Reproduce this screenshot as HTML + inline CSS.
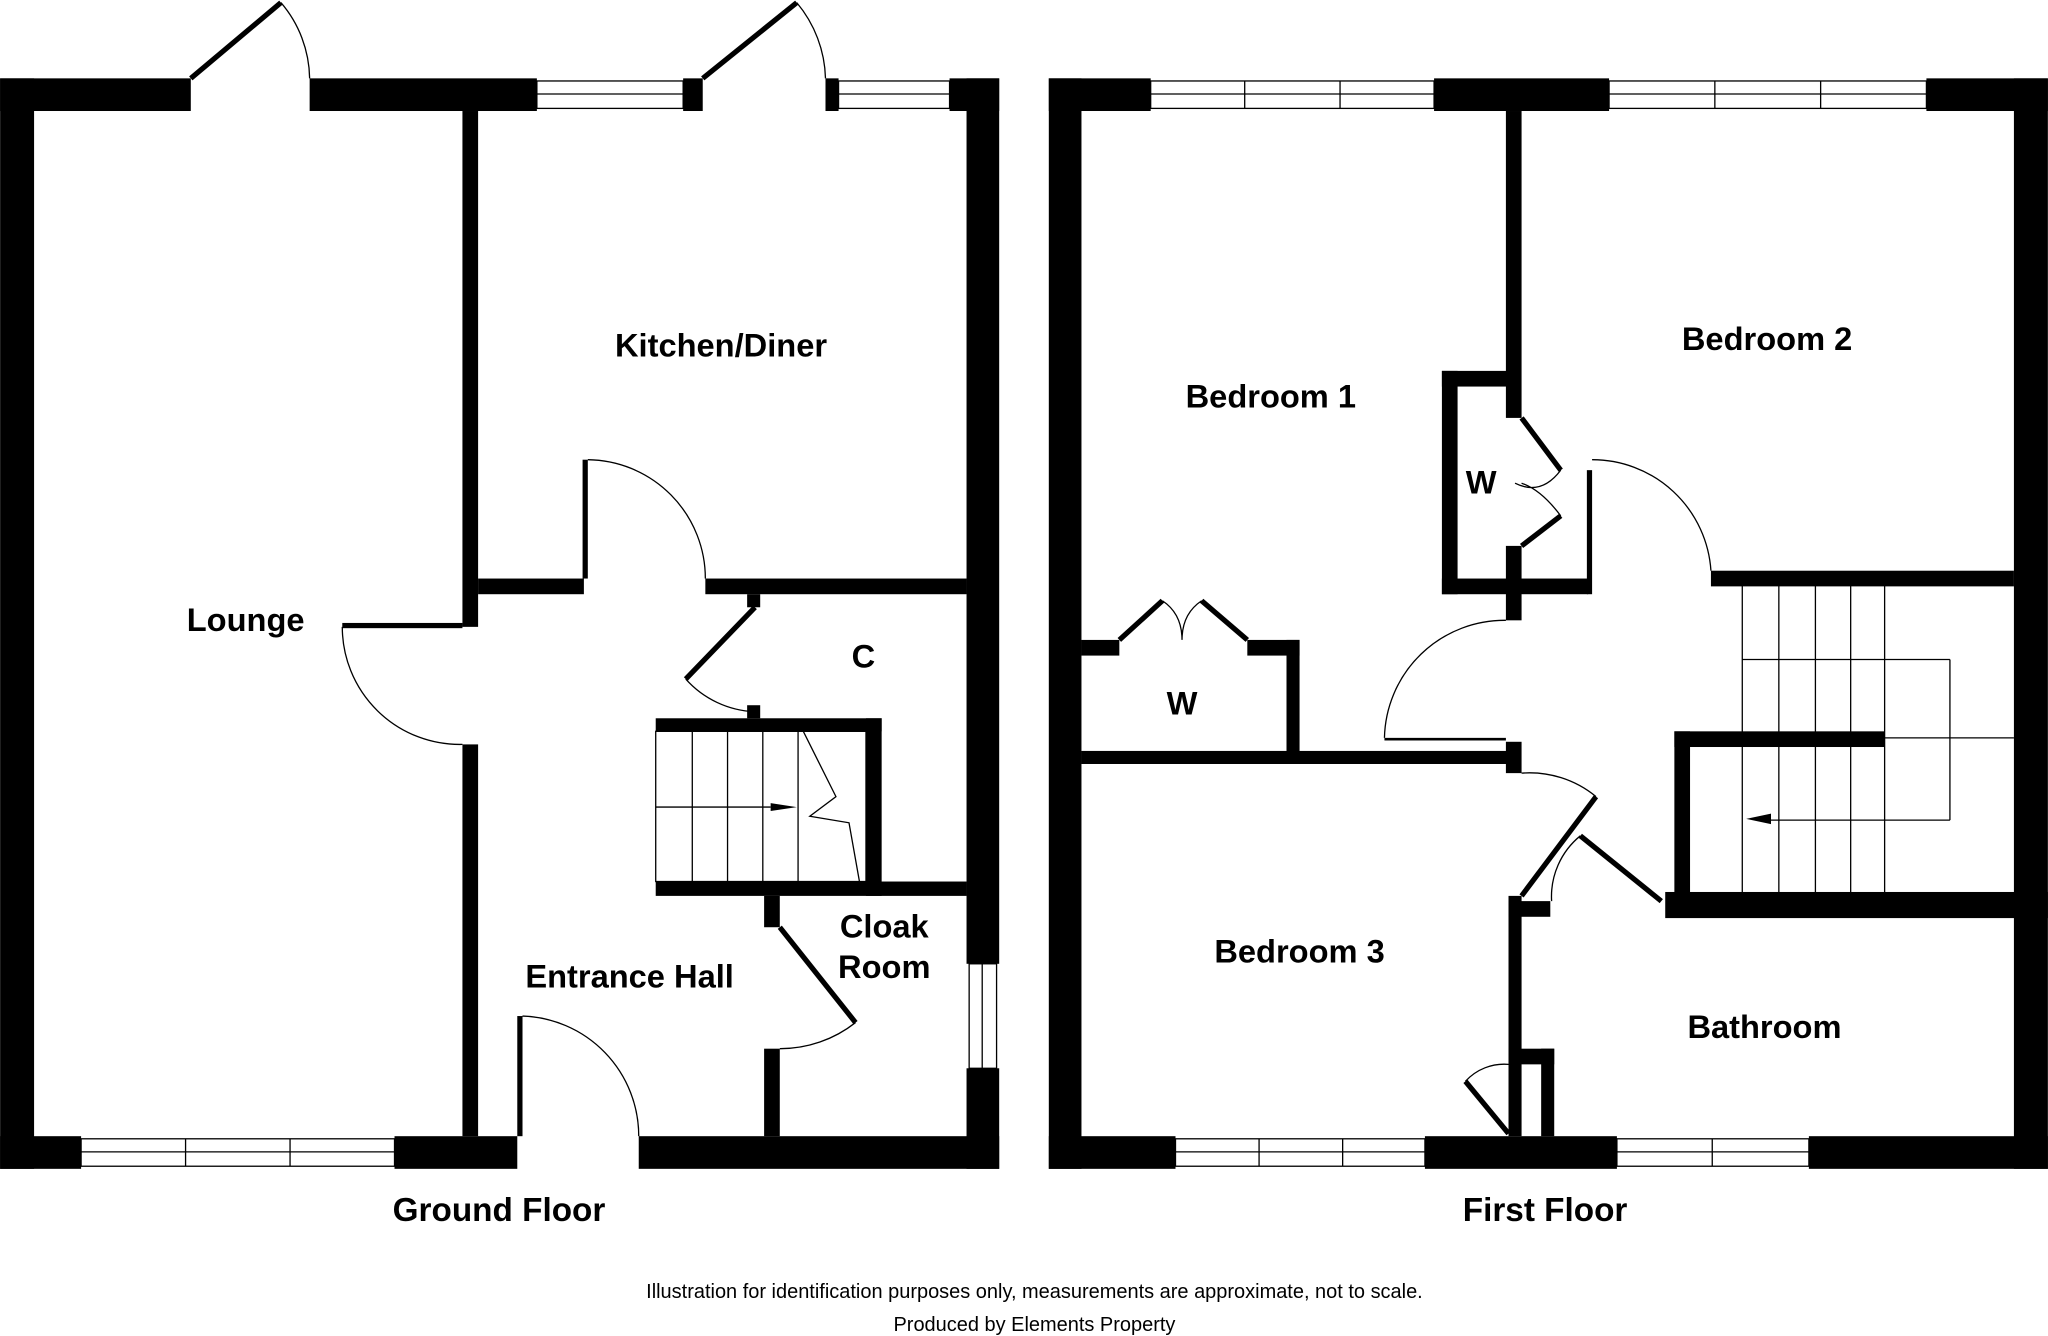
<!DOCTYPE html>
<html><head><style>html,body{margin:0;padding:0;background:#fff}svg{display:block}</style></head>
<body>
<svg width="2048" height="1336" viewBox="0 0 1568 1023" xmlns="http://www.w3.org/2000/svg" font-family="Liberation Sans, Arial, sans-serif">
<rect width="1568" height="1023" fill="#fff"/>
<g fill="#000">
<rect x="0" y="60" width="26" height="835"/>
<rect x="740" y="60" width="25" height="678"/>
<rect x="740" y="818" width="25" height="77"/>
<rect x="0" y="60" width="146" height="25"/>
<rect x="237" y="60" width="174" height="25"/>
<rect x="523" y="60" width="15" height="25"/>
<rect x="632" y="60" width="10" height="25"/>
<rect x="727" y="60" width="38" height="25"/>
<rect x="0" y="870" width="62" height="25"/>
<rect x="302" y="870" width="94" height="25"/>
<rect x="489" y="870" width="276" height="25"/>
<rect x="354" y="85" width="12" height="395"/>
<rect x="354" y="570" width="12" height="300"/>
<rect x="366" y="443" width="81" height="12"/>
<rect x="540" y="443" width="200" height="12"/>
<rect x="572" y="455" width="10" height="10"/>
<rect x="572" y="540" width="10" height="10"/>
<rect x="502" y="550" width="173" height="10"/>
<rect x="663" y="550" width="12" height="136"/>
<rect x="502" y="675" width="238" height="11"/>
<rect x="585" y="686" width="12" height="24"/>
<rect x="585" y="803" width="12" height="67"/>
<rect x="262" y="477" width="92" height="4"/>
<rect x="446" y="352" width="4" height="91"/>
<rect x="396" y="778" width="4" height="92"/>
<rect x="803" y="60" width="25" height="835"/>
<rect x="1542" y="60" width="26" height="835"/>
<rect x="803" y="60" width="78" height="25"/>
<rect x="1098" y="60" width="134" height="25"/>
<rect x="1475" y="60" width="93" height="25"/>
<rect x="803" y="870" width="97" height="25"/>
<rect x="1091" y="870" width="147" height="25"/>
<rect x="1385" y="870" width="183" height="25"/>
<rect x="1153" y="85" width="12" height="235"/>
<rect x="1104" y="284" width="12" height="171"/>
<rect x="1104" y="284" width="56" height="12"/>
<rect x="1104" y="443" width="112" height="12"/>
<rect x="1153" y="418" width="12" height="57"/>
<rect x="1215" y="360" width="4" height="95"/>
<rect x="1310" y="437" width="232" height="12"/>
<rect x="1282" y="560" width="12" height="135"/>
<rect x="1282" y="560" width="161" height="12"/>
<rect x="1275" y="683" width="293" height="20"/>
<rect x="828" y="575" width="332" height="10"/>
<rect x="828" y="490" width="29" height="12"/>
<rect x="955" y="490" width="40" height="12"/>
<rect x="985" y="490" width="10" height="90"/>
<rect x="1153" y="568" width="12" height="24"/>
<rect x="1060" y="565" width="93" height="2"/>
<rect x="1155" y="686" width="10" height="184"/>
<rect x="1155" y="690" width="32" height="12"/>
<rect x="1155" y="803" width="35" height="12"/>
<rect x="1180" y="803" width="10" height="67"/>
</g>
<g stroke="#000" fill="none">
<g stroke-width="1">
<rect x="411" y="62" width="112" height="21"/><line x1="411" y1="72" x2="523" y2="72"/>
<rect x="642" y="62" width="85" height="21"/><line x1="642" y1="72" x2="727" y2="72"/>
<rect x="62" y="872" width="240" height="21"/><line x1="62" y1="882" x2="302" y2="882"/><line x1="142" y1="872" x2="142" y2="893"/><line x1="222" y1="872" x2="222" y2="893"/>
<rect x="742" y="738" width="21" height="80"/><line x1="752" y1="738" x2="752" y2="818"/>
<rect x="881" y="62" width="217" height="21"/><line x1="881" y1="72" x2="1098" y2="72"/><line x1="953" y1="62" x2="953" y2="83"/><line x1="1026" y1="62" x2="1026" y2="83"/>
<rect x="1232" y="62" width="243" height="21"/><line x1="1232" y1="72" x2="1475" y2="72"/><line x1="1313" y1="62" x2="1313" y2="83"/><line x1="1394" y1="62" x2="1394" y2="83"/>
<rect x="900" y="872" width="191" height="21"/><line x1="900" y1="882" x2="1091" y2="882"/><line x1="964" y1="872" x2="964" y2="893"/><line x1="1028" y1="872" x2="1028" y2="893"/>
<rect x="1238" y="872" width="147" height="21"/><line x1="1238" y1="882" x2="1385" y2="882"/><line x1="1311" y1="872" x2="1311" y2="893"/>
<path d="M215 2 A91 91 0 0 1 237 60"/>
<path d="M610 2 A94 94 0 0 1 632 60"/>
<path d="M262 480 A90 90 0 0 0 354 570"/>
<path d="M450 352 A91 91 0 0 1 540 443"/>
<path d="M525 520 A75 75 0 0 0 578 545"/>
<path d="M655 783 A93 93 0 0 1 597 803"/>
<path d="M400 778 A92 92 0 0 1 489 870"/>
<path d="M1219 352 A91 91 0 0 1 1310 437"/>
<path d="M1060 565 A92 92 0 0 1 1153 475"/>
<path d="M1165 592 A80 80 0 0 1 1222 610"/>
<path d="M1210 640 A60 60 0 0 0 1188 690"/>
<path d="M1122 828 A40 40 0 0 1 1155 815"/>
<path d="M1160 370 Q1180 380 1195 360 M1165 370 Q1180 375 1195 395"/>
<path d="M905 490 Q905 470 890 460 M905 490 Q905 470 920 460"/>
<rect x="502" y="560" width="161" height="115"/>
<line x1="530" y1="560" x2="530" y2="675"/><line x1="557" y1="560" x2="557" y2="675"/><line x1="584" y1="560" x2="584" y2="675"/><line x1="611" y1="560" x2="611" y2="675"/>
<line x1="502" y1="618" x2="590" y2="618"/>
<path d="M615 560 L640 610 L620 625 L650 630 L658 675"/>
<line x1="1334" y1="448" x2="1334" y2="683"/><line x1="1362" y1="448" x2="1362" y2="683"/><line x1="1390" y1="448" x2="1390" y2="683"/><line x1="1417" y1="448" x2="1417" y2="683"/><line x1="1443" y1="448" x2="1443" y2="683"/>
<line x1="1334" y1="505" x2="1493" y2="505"/><line x1="1493" y1="505" x2="1493" y2="628"/><line x1="1350" y1="628" x2="1493" y2="628"/><line x1="1443" y1="565" x2="1542" y2="565"/>
</g>
<g stroke-width="4">
<line x1="146" y1="60" x2="215" y2="2"/>
<line x1="538" y1="60" x2="610" y2="2"/>
<line x1="578" y1="465" x2="525" y2="520"/>
<line x1="597" y1="710" x2="655" y2="783"/>
<line x1="1165" y1="320" x2="1195" y2="360"/><line x1="1165" y1="418" x2="1195" y2="395"/>
<line x1="857" y1="490" x2="890" y2="460"/><line x1="955" y1="490" x2="920" y2="460"/>
<line x1="1165" y1="686" x2="1222" y2="610"/>
<line x1="1210" y1="640" x2="1272" y2="690"/>
<line x1="1122" y1="828" x2="1155" y2="868"/>
</g>
</g>
<polygon points="590,615 610,618 590,621" fill="#000"/>
<polygon points="1337,627 1356,623 1356,631" fill="#000"/>
<g font-weight="bold" font-size="25" text-anchor="middle" fill="#000">
<text x="188" y="483">Lounge</text>
<text x="552" y="273">Kitchen/Diner</text>
<text x="661" y="511">C</text>
<text x="677" y="718">Cloak</text>
<text x="677" y="749">Room</text>
<text x="482" y="756">Entrance Hall</text>
<text x="973" y="312">Bedroom 1</text>
<text x="1353" y="268">Bedroom 2</text>
<text x="1134" y="378">W</text>
<text x="905" y="547">W</text>
<text x="995" y="737">Bedroom 3</text>
<text x="1351" y="795">Bathroom</text>
<text x="382" y="935" font-size="25.5">Ground Floor</text>
<text x="1183" y="935" font-size="25.5">First Floor</text>
</g>
<g font-size="15.3" text-anchor="middle" fill="#000">
<text x="792" y="994">Illustration for identification purposes only, measurements are approximate, not to scale.</text>
<text x="792" y="1019">Produced by Elements Property</text>
</g>
</svg>
</body></html>
